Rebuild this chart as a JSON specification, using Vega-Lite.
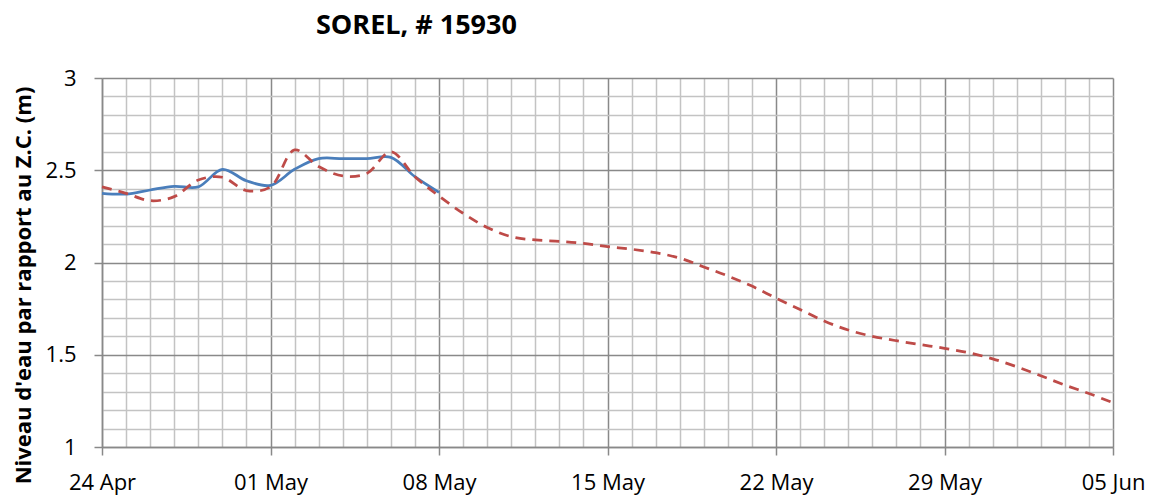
{
  "$schema": "https://vega.github.io/schema/vega-lite/v6.json",
  "width": 1011,
  "height": 369,
  "autosize": {"type": "none"},
  "padding": {"left": 102, "top": 78, "right": 37, "bottom": 51},
  "background": "white",
  "title": {
    "text": "SOREL, # 15930",
    "font": "Open Sans",
    "fontSize": 27,
    "fontWeight": "bold",
    "color": "#000000",
    "anchor": "start",
    "frame": "group",
    "dx": 214,
    "offset": 6,
    "baseline": "alphabetic"
  },
  "config": {"view": {"stroke": null}, "font": "Open Sans"},
  "data": {
    "values": [
      {"date": "2013-04-24", "s": "obs", "level": 2.375},
      {"date": "2013-04-25", "s": "obs", "level": 2.371},
      {"date": "2013-04-26", "s": "obs", "level": 2.393},
      {"date": "2013-04-27", "s": "obs", "level": 2.413},
      {"date": "2013-04-28", "s": "obs", "level": 2.41},
      {"date": "2013-04-29", "s": "obs", "level": 2.505},
      {"date": "2013-04-30", "s": "obs", "level": 2.443},
      {"date": "2013-05-01", "s": "obs", "level": 2.418},
      {"date": "2013-05-02", "s": "obs", "level": 2.505},
      {"date": "2013-05-03", "s": "obs", "level": 2.563},
      {"date": "2013-05-04", "s": "obs", "level": 2.563},
      {"date": "2013-05-05", "s": "obs", "level": 2.563},
      {"date": "2013-05-06", "s": "obs", "level": 2.57},
      {"date": "2013-05-07", "s": "obs", "level": 2.465},
      {"date": "2013-05-08", "s": "obs", "level": 2.38},
      {"date": "2013-04-24", "s": "prev", "level": 2.41},
      {"date": "2013-04-25", "s": "prev", "level": 2.375},
      {"date": "2013-04-26", "s": "prev", "level": 2.335},
      {"date": "2013-04-27", "s": "prev", "level": 2.357},
      {"date": "2013-04-28", "s": "prev", "level": 2.447},
      {"date": "2013-04-29", "s": "prev", "level": 2.462},
      {"date": "2013-04-30", "s": "prev", "level": 2.39},
      {"date": "2013-05-01", "s": "prev", "level": 2.41},
      {"date": "2013-05-02", "s": "prev", "level": 2.61},
      {"date": "2013-05-03", "s": "prev", "level": 2.52},
      {"date": "2013-05-04", "s": "prev", "level": 2.469},
      {"date": "2013-05-05", "s": "prev", "level": 2.483},
      {"date": "2013-05-06", "s": "prev", "level": 2.6},
      {"date": "2013-05-07", "s": "prev", "level": 2.465},
      {"date": "2013-05-08", "s": "prev", "level": 2.36},
      {"date": "2013-05-09", "s": "prev", "level": 2.267},
      {"date": "2013-05-10", "s": "prev", "level": 2.19},
      {"date": "2013-05-11", "s": "prev", "level": 2.14},
      {"date": "2013-05-12", "s": "prev", "level": 2.122},
      {"date": "2013-05-13", "s": "prev", "level": 2.115},
      {"date": "2013-05-14", "s": "prev", "level": 2.104},
      {"date": "2013-05-15", "s": "prev", "level": 2.086},
      {"date": "2013-05-16", "s": "prev", "level": 2.072},
      {"date": "2013-05-17", "s": "prev", "level": 2.053},
      {"date": "2013-05-18", "s": "prev", "level": 2.024},
      {"date": "2013-05-19", "s": "prev", "level": 1.976},
      {"date": "2013-05-20", "s": "prev", "level": 1.927},
      {"date": "2013-05-21", "s": "prev", "level": 1.872},
      {"date": "2013-05-22", "s": "prev", "level": 1.807},
      {"date": "2013-05-23", "s": "prev", "level": 1.745},
      {"date": "2013-05-24", "s": "prev", "level": 1.683},
      {"date": "2013-05-25", "s": "prev", "level": 1.634},
      {"date": "2013-05-26", "s": "prev", "level": 1.6},
      {"date": "2013-05-27", "s": "prev", "level": 1.576},
      {"date": "2013-05-28", "s": "prev", "level": 1.555},
      {"date": "2013-05-29", "s": "prev", "level": 1.535},
      {"date": "2013-05-30", "s": "prev", "level": 1.511},
      {"date": "2013-05-31", "s": "prev", "level": 1.478},
      {"date": "2013-06-01", "s": "prev", "level": 1.435},
      {"date": "2013-06-02", "s": "prev", "level": 1.386},
      {"date": "2013-06-03", "s": "prev", "level": 1.336},
      {"date": "2013-06-04", "s": "prev", "level": 1.29},
      {"date": "2013-06-05", "s": "prev", "level": 1.24}
    ]
  },
  "encoding": {
    "x": {
      "field": "date",
      "type": "temporal",
      "scale": {
        "type": "utc",
        "domain": [
          {"year": 2013, "month": 4, "date": 24, "utc": true},
          {"year": 2013, "month": 6, "date": 5, "utc": true}
        ],
        "nice": false
      },
      "axis": {
        "title": null,
        "tickCount": {"interval": "day", "step": 1},
        "labelExpr": "(datum.value - 1366761600000) % 604800000 == 0 ? utcFormat(datum.value, '%d %b') : ''",
        "labelFont": "Open Sans",
        "labelFontSize": 22,
        "labelColor": "#000000",
        "labelPadding": 17,
        "labelFlush": false,
        "labelOverlap": false,
        "labelBound": false,
        "tickSize": 8,
        "tickColor": "#898989",
        "tickWidth": 1.5,
        "tickOpacity": {"condition": {"test": "(datum.value - 1366761600000) % 604800000 == 0", "value": 1}, "value": 0},
        "domainColor": "#898989",
        "domainWidth": 1.5,
        "grid": true,
        "gridColor": {"condition": {"test": "(datum.value - 1366761600000) % 604800000 == 0", "value": "#898989"}, "value": "#c3c3c3"},
        "gridWidth": 1.5,
        "gridOpacity": 1
      }
    },
    "y": {
      "field": "level",
      "type": "quantitative",
      "scale": {"domain": [1, 3], "nice": false, "zero": false},
      "axis": {
        "title": "Niveau d'eau par rapport au Z.C. (m)",
        "titleFont": "Open Sans",
        "titleFontSize": 22,
        "titleFontWeight": "bold",
        "titleColor": "#000000",
        "titleX": -72,
        "titleY": 207,
        "titleBaseline": "alphabetic",
        "titleAngle": 270,
        "titleAlign": "center",
        "values": [1, 1.1, 1.2, 1.3, 1.4, 1.5, 1.6, 1.7, 1.8, 1.9, 2, 2.1, 2.2, 2.3, 2.4, 2.5, 2.6, 2.7, 2.8, 2.9, 3],
        "labelExpr": "abs(datum.value * 2 - round(datum.value * 2)) < 0.000001 ? '' + datum.value : ''",
        "labelFont": "Open Sans",
        "labelFontSize": 22,
        "labelColor": "#000000",
        "labelPadding": 18,
        "labelOverlap": false,
        "labelFlush": false,
        "labelBound": false,
        "tickSize": 8,
        "tickColor": "#898989",
        "tickWidth": 1.5,
        "tickOpacity": {"condition": {"test": "abs(datum.value * 2 - round(datum.value * 2)) < 0.000001", "value": 1}, "value": 0},
        "domainColor": "#898989",
        "domainWidth": 1.5,
        "grid": true,
        "gridColor": {"condition": {"test": "abs(datum.value * 2 - round(datum.value * 2)) < 0.000001", "value": "#898989"}, "value": "#c3c3c3"},
        "gridWidth": 1.5,
        "gridOpacity": 1
      }
    }
  },
  "layer": [
    {
      "transform": [{"filter": "datum.s == 'obs'"}],
      "mark": {"type": "line", "interpolate": "catmull-rom", "color": "#4a7ebb", "strokeWidth": 2.75}
    },
    {
      "transform": [{"filter": "datum.s == 'prev'"}],
      "mark": {"type": "line", "interpolate": "catmull-rom", "color": "#be4b48", "strokeWidth": 2.75, "strokeDash": [10, 7]}
    }
  ]
}
